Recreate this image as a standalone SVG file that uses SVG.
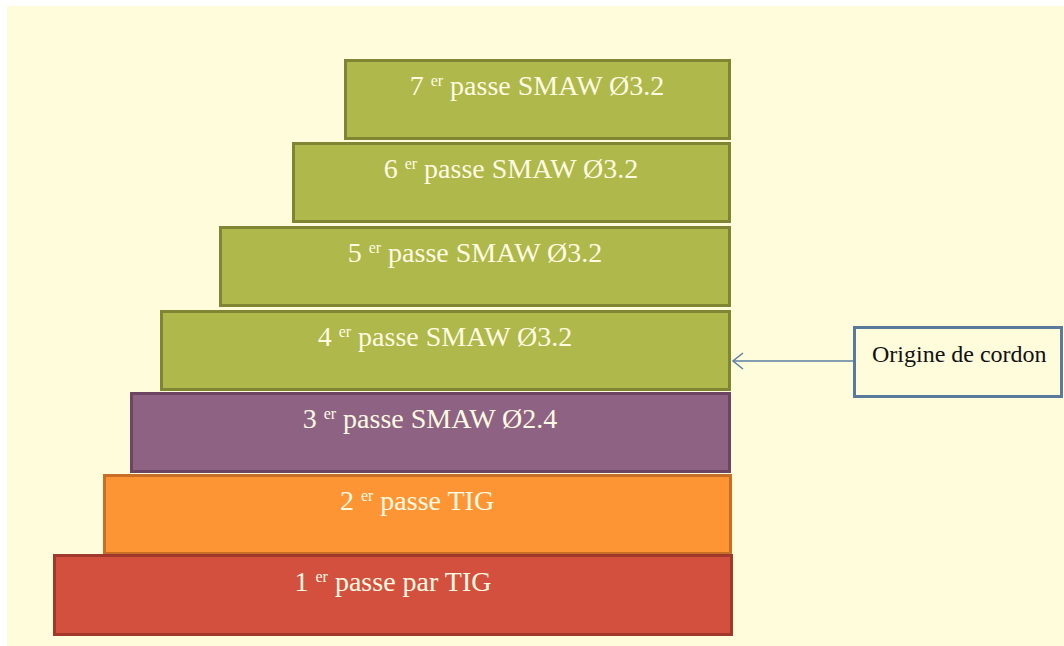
<svg xmlns="http://www.w3.org/2000/svg" width="1064" height="646" viewBox="0 0 1064 646">
  <style>
    .pass { stroke-width: 3; }
    .green { fill: #aeb84b; stroke: #7f8633; }
    .purple { fill: #8e6283; stroke: #6b4562; }
    .orange { fill: #fe9535; stroke: #c86e27; }
    .red { fill: #d4503e; stroke: #a1382c; }
    .label { font-family: "Liberation Serif", "Times New Roman", serif; font-size: 28px; fill: #fffbe2; text-anchor: middle; }
    .sup { font-size: 16px; }
    .note { fill: #fffcdc; stroke: #5a7a9c; stroke-width: 3; }
    .note-text { font-family: "Liberation Serif", "Times New Roman", serif; font-size: 24px; fill: #111111; }
    .link { fill: none; stroke: #5a7fa0; stroke-width: 1.5; }
  </style>

  <rect x="0" y="0" width="1064" height="646" fill="#ffffff"/>
  <rect x="7" y="6" width="1057" height="640" fill="#fffcdc"/>

  <g id="pass-7">
    <rect class="pass green" x="345.5" y="60.5" width="384" height="78"/>
    <text class="label" x="537" y="95">7 <tspan class="sup" dy="-9">er</tspan><tspan dy="9"> passe SMAW Ø3.2</tspan></text>
  </g>
  <g id="pass-6">
    <rect class="pass green" x="293.5" y="143.5" width="436" height="78"/>
    <text class="label" x="511" y="178">6 <tspan class="sup" dy="-9">er</tspan><tspan dy="9"> passe SMAW Ø3.2</tspan></text>
  </g>
  <g id="pass-5">
    <rect class="pass green" x="220.5" y="227.5" width="509" height="78"/>
    <text class="label" x="475" y="262">5 <tspan class="sup" dy="-9">er</tspan><tspan dy="9"> passe SMAW Ø3.2</tspan></text>
  </g>
  <g id="pass-4">
    <rect class="pass green" x="161.5" y="311.5" width="568" height="78"/>
    <text class="label" x="445" y="346">4 <tspan class="sup" dy="-9">er</tspan><tspan dy="9"> passe SMAW Ø3.2</tspan></text>
  </g>
  <g id="pass-3">
    <rect class="pass purple" x="131.5" y="393.5" width="598" height="78"/>
    <text class="label" x="430" y="428">3 <tspan class="sup" dy="-9">er</tspan><tspan dy="9"> passe SMAW Ø2.4</tspan></text>
  </g>
  <g id="pass-2">
    <rect class="pass orange" x="104.5" y="475.5" width="626" height="78"/>
    <text class="label" x="417" y="510">2 <tspan class="sup" dy="-9">er</tspan><tspan dy="9"> passe TIG</tspan></text>
  </g>
  <g id="pass-1">
    <rect class="pass red" x="54.5" y="555.5" width="677" height="79"/>
    <text class="label" x="393" y="591">1 <tspan class="sup" dy="-9">er</tspan><tspan dy="9"> passe par TIG</tspan></text>
  </g>

  <g id="origin-note">
    <rect class="note" x="854.5" y="327.5" width="207" height="69"/>
    <text class="note-text" x="872" y="362">Origine de cordon</text>
  </g>

  <g id="connectors">
    <line class="link" x1="853" y1="361" x2="733" y2="361"/>
    <polyline class="link" points="743,353 733,361 743,369"/>
  </g>
</svg>
